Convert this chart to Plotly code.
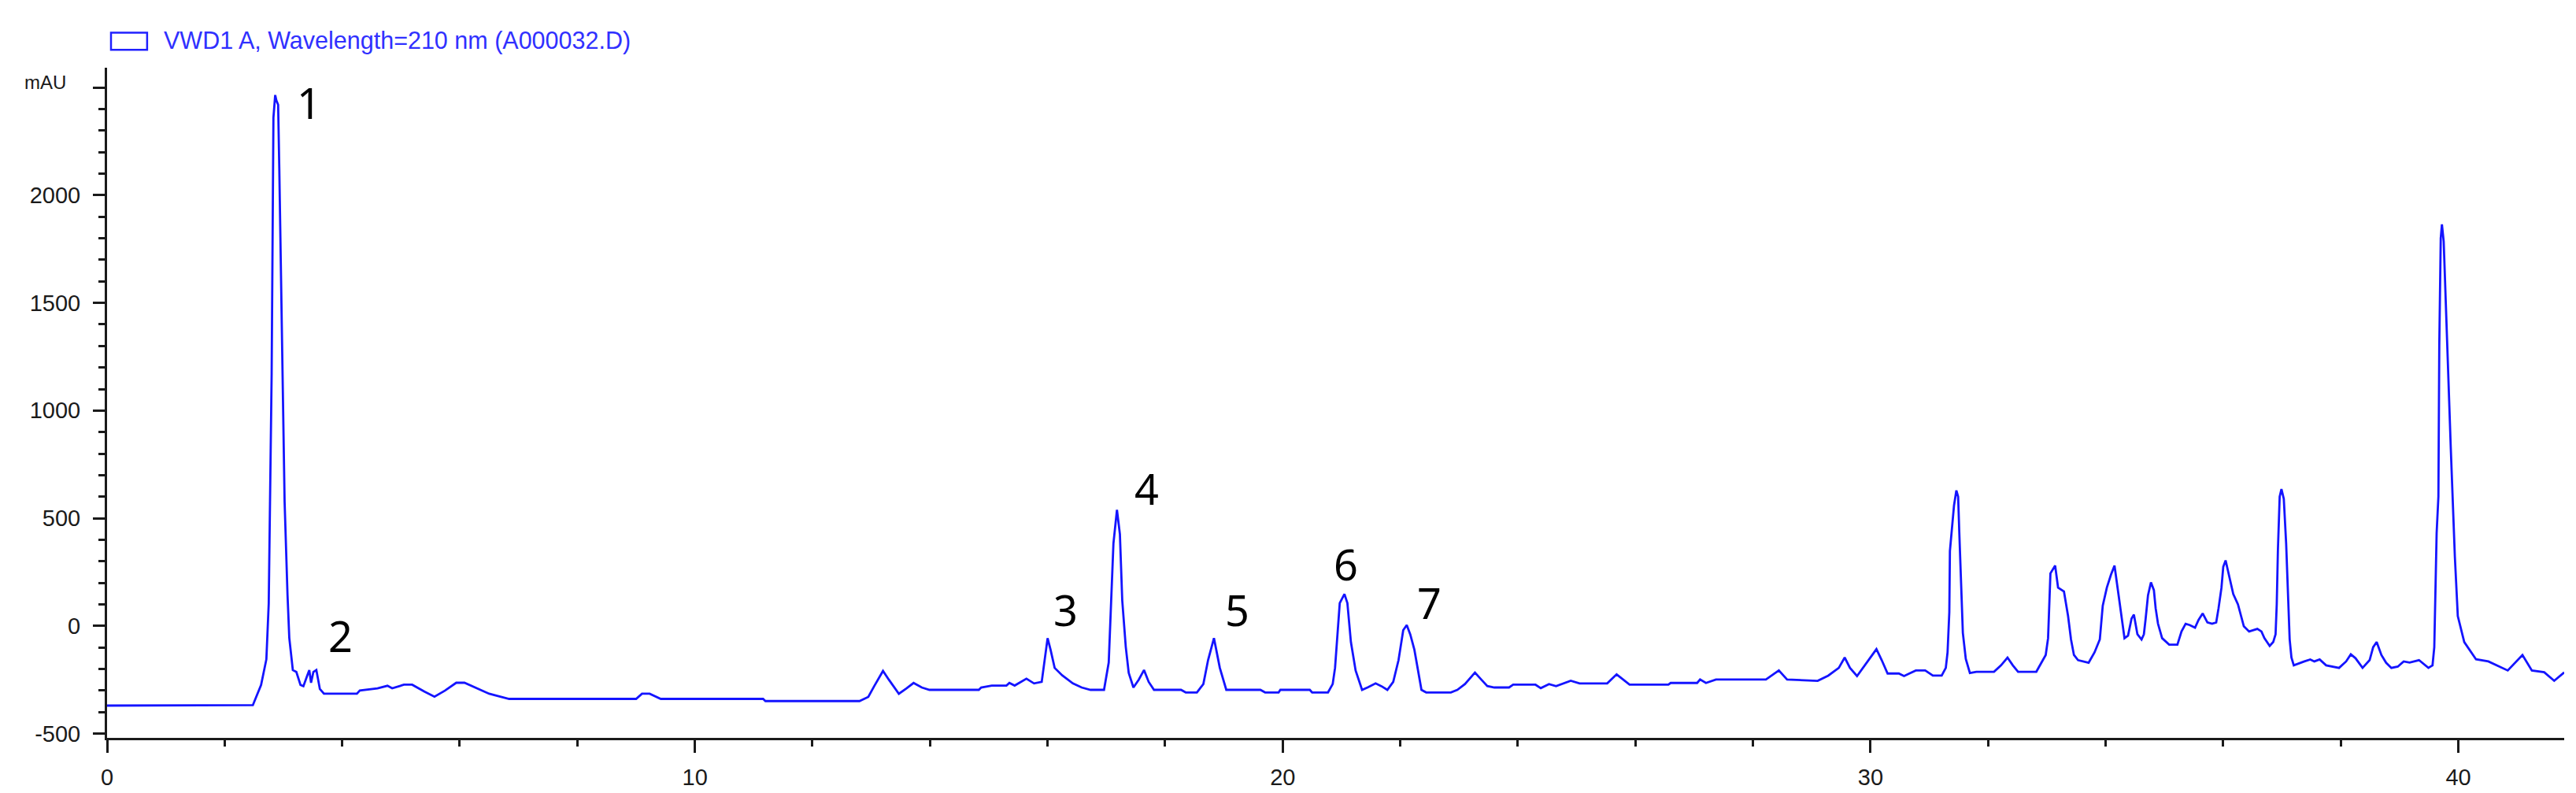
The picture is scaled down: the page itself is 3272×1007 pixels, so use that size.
import plotly.graph_objects as go

# retention time (min) and detector signal (mAU)
time_min = [
    0.0, 2.48, 2.62, 2.71, 2.75, 2.80, 2.83, 2.86, 2.88, 2.91, 2.93, 2.98, 3.02, 3.07,
    3.10, 3.16, 3.22, 3.29, 3.34, 3.40, 3.44, 3.47, 3.51, 3.56, 3.62, 3.69, 4.25, 4.30,
    4.60, 4.77, 4.85, 5.05, 5.19, 5.40, 5.57, 5.75, 5.94, 6.08, 6.30, 6.50, 6.65, 6.84,
    9.00, 9.10, 9.23, 9.42, 11.16, 11.20, 12.80, 12.95, 13.05, 13.20, 13.30, 13.47,
    13.60, 13.72, 13.86, 13.99, 14.83, 14.87, 15.05, 15.30, 15.35, 15.44, 15.64, 15.77,
    15.90, 15.95, 16.00, 16.05, 16.12, 16.25, 16.43, 16.58, 16.73, 16.96, 17.04, 17.12,
    17.18, 17.23, 17.27, 17.33, 17.38, 17.46, 17.55, 17.64, 17.72, 17.81, 18.27, 18.35,
    18.54, 18.65, 18.73, 18.83, 18.93, 19.04, 19.62, 19.70, 19.93, 19.96, 20.46, 20.50,
    20.77, 20.85, 20.89, 20.97, 21.05, 21.10, 21.16, 21.24, 21.35, 21.45, 21.58, 21.68,
    21.78, 21.88, 21.97, 22.05, 22.11, 22.17, 22.24, 22.36, 22.44, 22.86, 22.97, 23.10,
    23.27, 23.38, 23.48, 23.60, 23.85, 23.92, 24.30, 24.39, 24.53, 24.65, 24.90, 25.05,
    25.52, 25.68, 25.90, 26.56, 26.60, 27.05, 27.10, 27.20, 27.37, 28.22, 28.44, 28.58,
    29.10, 29.28, 29.46, 29.56, 29.65, 29.77, 29.90, 30.10, 30.19, 30.29, 30.48, 30.57,
    30.66, 30.77, 30.93, 31.06, 31.21, 31.28, 31.31, 31.34, 31.35, 31.42, 31.46, 31.49,
    31.51, 31.55, 31.57, 31.62, 31.69, 31.80, 32.10, 32.22, 32.33, 32.42, 32.51, 32.82,
    32.93, 32.98, 33.02, 33.04, 33.06, 33.14, 33.19, 33.29, 33.36, 33.41, 33.46, 33.53,
    33.71, 33.81, 33.90, 33.95, 34.02, 34.09, 34.15, 34.22, 34.27, 34.32, 34.38, 34.44,
    34.48, 34.54, 34.61, 34.65, 34.68, 34.72, 34.77, 34.82, 34.85, 34.89, 34.96, 35.08,
    35.22, 35.29, 35.36, 35.43, 35.52, 35.58, 35.65, 35.73, 35.81, 35.88, 35.92, 35.97,
    36.00, 36.04, 36.08, 36.13, 36.17, 36.25, 36.30, 36.35, 36.44, 36.58, 36.65, 36.70,
    36.79, 36.85, 36.89, 36.91, 36.93, 36.96, 36.99, 37.03, 37.07, 37.10, 37.13, 37.16,
    37.20, 37.38, 37.48, 37.55, 37.64, 37.75, 37.97, 38.09, 38.17, 38.25, 38.37, 38.49,
    38.55, 38.61, 38.69, 38.77, 38.86, 38.97, 39.07, 39.17, 39.33, 39.49, 39.56, 39.59,
    39.63, 39.66, 39.675, 39.70, 39.72, 39.75, 39.77, 39.79, 39.83, 39.87, 39.91, 39.94,
    39.99, 40.10, 40.30, 40.51, 40.84, 41.09, 41.25, 41.46, 41.63, 41.80,
]
signal_mau = [
    -370, -368, -274, -155, 103, 1173, 2360, 2465, 2440, 2420, 2123, 1291, 578, 142,
    -56, -205, -214, -274, -280, -235, -205, -264, -214, -205, -293, -315, -315, -300,
    -290, -278, -290, -273, -273, -305, -329, -300, -264, -264, -290, -315, -326, -339,
    -339, -315, -315, -339, -339, -349, -349, -330, -280, -209, -250, -315,
    -290, -265, -286, -297, -297, -286, -277, -277, -265, -277, -245, -267,
    -260, -150, -57, -110, -195, -230, -267, -286, -297, -297, -170, 383,
    539, 426, 118, -98, -218, -286, -250, -205, -260, -297, -297, -309,
    -309, -270, -159, -57, -195, -297, -297, -309, -309, -297, -297, -309,
    -309, -270, -195, 106, 148, 106, -75, -207, -297, -285, -267, -280,
    -297, -260, -159, -20, 4, -40, -111, -297, -309, -309, -297, -270,
    -217, -250, -279, -286, -286, -273, -273, -289, -270, -280, -255, -267,
    -267, -225, -273, -273, -265, -265, -249, -265, -249, -249, -207, -249,
    -255, -231, -195, -147, -195, -233, -183, -108, -159, -221, -221, -233,
    -221, -207, -207, -231, -231, -195, -123, 64, 347, 560, 629, 600,
    431, 166, -32, -153, -219, -213, -213, -183, -147, -183, -213, -213,
    -159, -135, -57, 106, 244, 280, 178, 160, 46, -63, -135, -159,
    -171, -123, -63, 94, 178, 238, 280, 142, 34, -57, -45, 34,
    52, -39, -63, -39, 34, 142, 202, 166, 82, 10, -57, -87,
    -87, -26, 10, 4, -8, 28, 58, 16, 10, 16, 82, 178,
    274, 304, 256, 190, 148, 100, 46, -2, -26, -14, -26, -57,
    -93, -75, -39, 100, 353, 600, 635, 590, 383, 124, -63, -147,
    -183, -165, -156, -165, -156, -183, -195, -165, -132, -150, -195, -159,
    -99, -75, -135, -171, -195, -189, -165, -170, -159, -195, -183, -99,
    431, 600, 1300, 1800, 1865, 1785, 1640, 1500, 1150, 830, 540, 322,
    46, -75, -155, -165, -207, -135, -207, -215, -255, -216,
]

# peak numbers and where they are written
peak_labels = ["1", "2", "3", "4", "5", "6", "7"]
peak_label_x = [3.43, 3.97, 16.30, 17.69, 19.23, 21.08, 22.50]
peak_label_y = [2430, -46, 76, 641, 76, 290, 110]

y_ticks = [-500, 0, 500, 1000, 1500, 2000, 2500]
y_tick_text = ["-500", "0", "500", "1000", "1500", "2000", ""]
x_ticks = [0, 10, 20, 30, 40]

AXIS_FONT = dict(family="Liberation Sans, Arial, sans-serif", size=29, color="#1a1a1a")

fig = go.Figure()
fig.add_trace(
    go.Scatter(
        x=time_min, y=signal_mau, mode="lines",
        line=dict(color="#1414ff", width=2.8),
        showlegend=False,
    )
)

for label, lx, ly in zip(peak_labels, peak_label_x, peak_label_y):
    fig.add_annotation(
        x=lx, y=ly, text=label, showarrow=False,
        font=dict(family="Noto Sans, sans-serif", size=54, color="black"),
    )

# ChemStation-style signal legend and unit label
fig.add_shape(
    type="rect", xref="paper", yref="paper",
    x0=0.0016, x1=0.0163, y0=1.0267, y1=1.0522,
    line=dict(color="#2020ff", width=2.5), fillcolor="rgba(0,0,0,0)",
)
fig.add_annotation(
    xref="paper", yref="paper", x=0.0224, y=1.0406,
    xanchor="left", yanchor="middle", showarrow=False,
    text="VWD1 A, Wavelength=210 nm (A000032.D)",
    font=dict(family="Liberation Sans, Arial, sans-serif", size=30.5, color="#3030ff"),
)
fig.add_annotation(
    xref="paper", yref="paper", x=-0.025, y=0.978,
    xanchor="center", yanchor="middle", showarrow=False,
    text="mAU", font=dict(family="Liberation Sans, Arial, sans-serif", size=24, color="#1a1a1a"),
)

fig.update_xaxes(
    range=[0, 41.8], tickmode="array", tickvals=x_ticks,
    showgrid=False, zeroline=False,
    showline=True, linecolor="#1a1a1a", linewidth=3,
    ticks="outside", ticklen=16, tickwidth=2.5, tickcolor="#1a1a1a",
    minor=dict(dtick=2, tick0=0, ticks="outside", ticklen=8, tickwidth=2.5, tickcolor="#1a1a1a"),
    tickfont=AXIS_FONT, ticklabelstandoff=6,
)
fig.update_yaxes(
    range=[-520, 2592], tickmode="array", tickvals=y_ticks, ticktext=y_tick_text,
    showgrid=False, zeroline=False,
    showline=True, linecolor="#1a1a1a", linewidth=3,
    ticks="outside", ticklen=15, tickwidth=2.5, tickcolor="#1a1a1a",
    minor=dict(dtick=100, tick0=0, ticks="outside", ticklen=8, tickwidth=2.5, tickcolor="#1a1a1a"),
    tickfont=AXIS_FONT, ticklabelstandoff=10,
)

fig.update_layout(
    width=3272, height=1007,
    margin=dict(l=128, r=23, t=78, b=67),
    plot_bgcolor="white", paper_bgcolor="white",
)

fig.write_html("out.html")
